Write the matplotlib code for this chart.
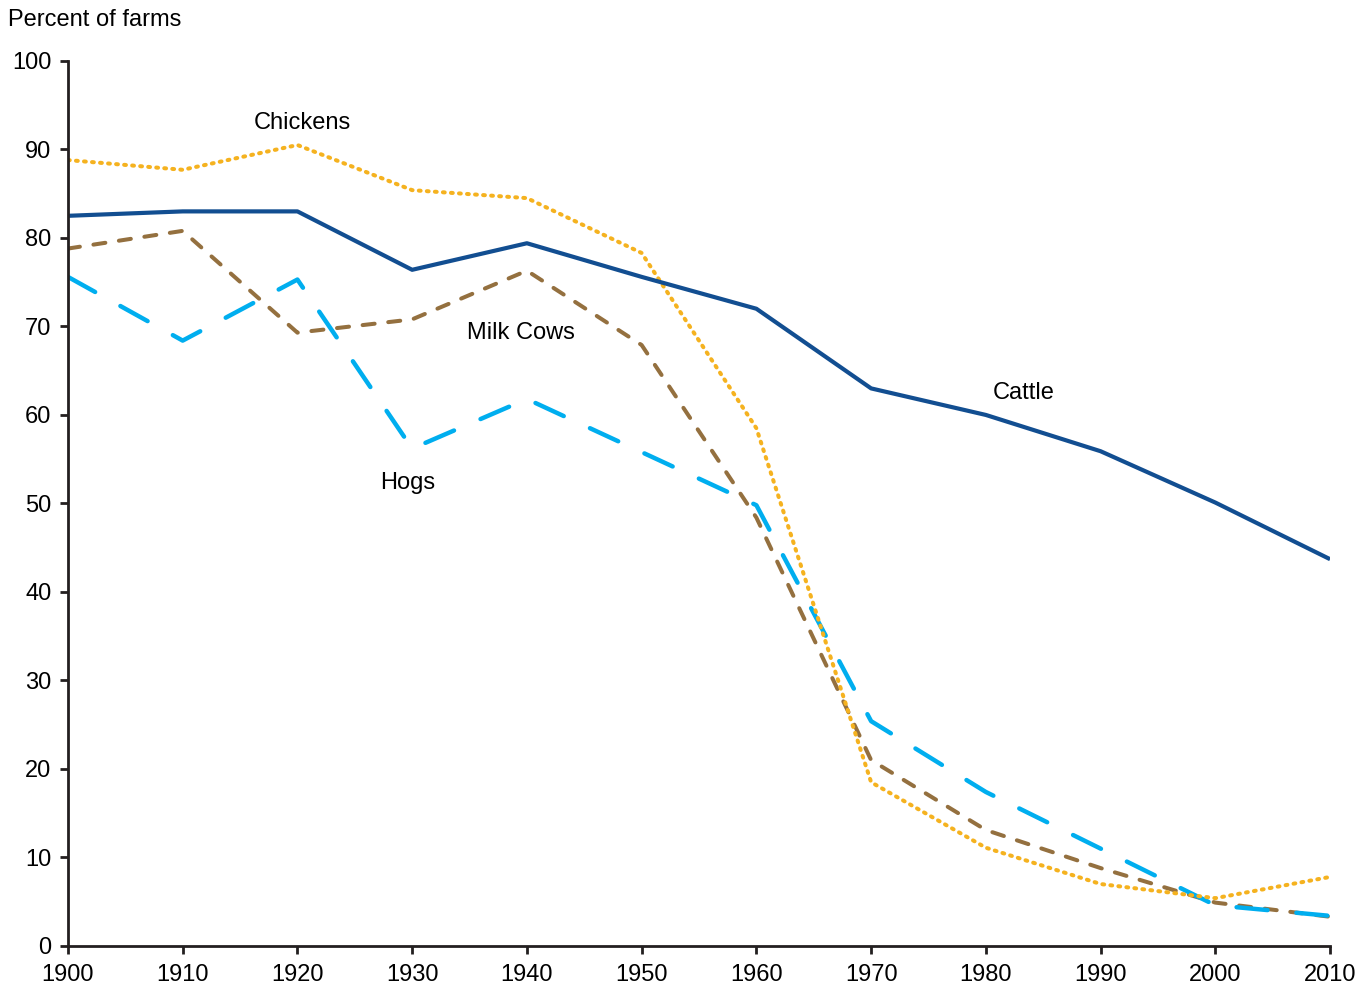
import matplotlib.pyplot as plt

plt.rcParams['font.family'] = ['Liberation Sans', 'DejaVu Sans']

years = [1900, 1910, 1920, 1930, 1940, 1950, 1960, 1970, 1980, 1990, 2000, 2010]
cattle = [82.5, 83.0, 83.0, 76.4, 79.4, 75.6, 72.0, 63.0, 60.0, 55.9, 50.1, 43.7]
chickens = [88.8, 87.7, 90.5, 85.4, 84.5, 78.3, 58.5, 18.5, 11.1, 7.0, 5.4, 7.8]
milk_cows = [78.8, 80.8, 69.3, 70.8, 76.3, 67.9, 48.4, 21.0, 13.1, 8.8, 4.9, 3.3]
hogs = [75.6, 68.4, 75.3, 56.2, 61.8, 55.8, 49.8, 25.4, 17.4, 11.0, 4.6, 3.4]

fig = plt.figure(figsize=(13.67, 9.86), dpi=100)
ax = fig.add_axes([0.0497, 0.0406, 0.9233, 0.8976])

ax.plot(years, milk_cows, color='#94703F', lw=2.9, dashes=(3.0, 3.4), dash_capstyle='round')
ax.plot(years, hogs, color='#00AEEF', lw=3.2, dashes=(7.0, 6.5), dash_capstyle='round')
ax.plot(years, chickens, color='#F5B21F', lw=2.9, dashes=(0.45, 1.55), dash_capstyle='round')
ax.plot(years, cattle, color='#124E91', lw=3.0, solid_capstyle='butt')

fs = 17
ax.text(1920.4, 93.0, 'Chickens', ha='center', va='center', fontsize=fs)
ax.text(1939.5, 69.3, 'Milk Cows', ha='center', va='center', fontsize=fs)
ax.text(1983.3, 62.5, 'Cattle', ha='center', va='center', fontsize=fs)
ax.text(1929.6, 52.3, 'Hogs', ha='center', va='center', fontsize=fs)

ax.set_xlim(1900, 2010)
ax.set_ylim(0, 100)
ax.set_xticks(range(1900, 2011, 10))
ax.set_yticks(range(0, 101, 10))
ax.tick_params(labelsize=fs, length=6, width=2, color='#231F20')
ax.tick_params(axis='x', pad=7)
ax.tick_params(axis='y', pad=6)
for s in ['top', 'right']:
    ax.spines[s].set_visible(False)
for s in ['left', 'bottom']:
    ax.spines[s].set_linewidth(2)
    ax.spines[s].set_color('#231F20')

fig.text(0.006, 0.98, 'Percent of farms', fontsize=fs, va='center')

fig.savefig('out.png', dpi=100)
